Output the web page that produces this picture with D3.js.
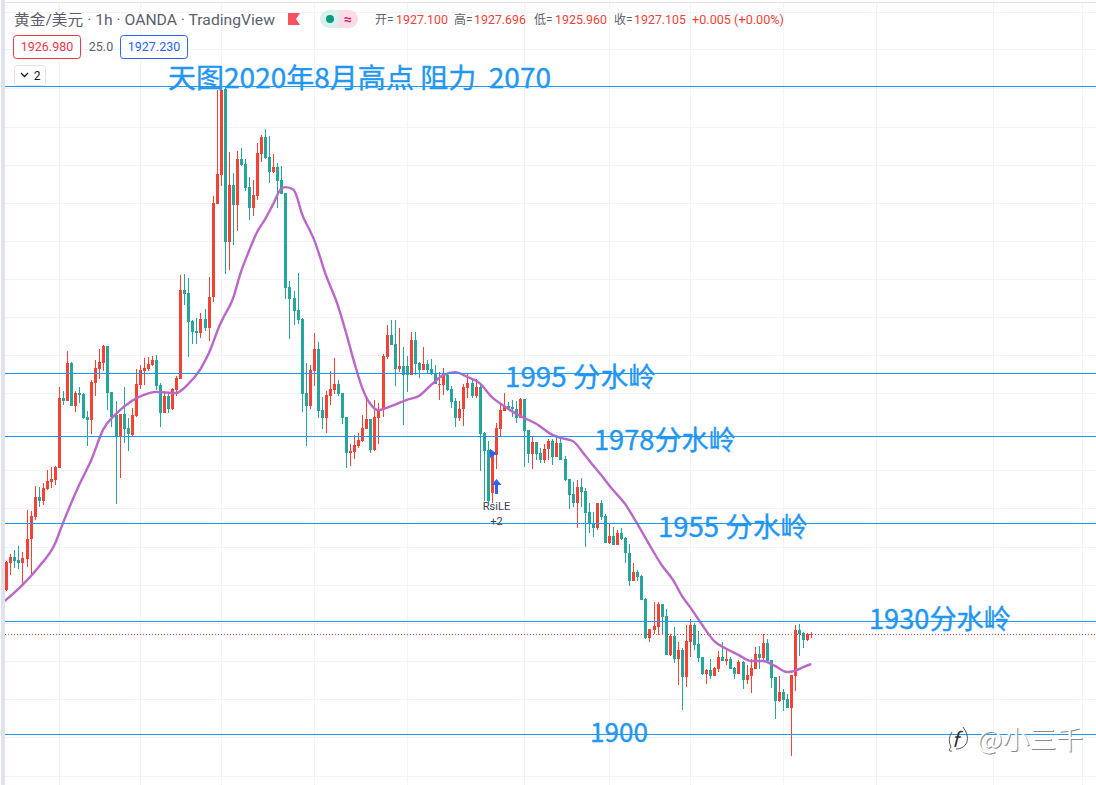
<!DOCTYPE html>
<html>
<head>
<meta charset="utf-8">
<title>黄金/美元 1h</title>
<script src="https://cdnjs.cloudflare.com/ajax/libs/d3/7.8.5/d3.min.js"></script>
<style>
html, body { margin: 0; padding: 0; background: #fff; overflow: hidden; }
svg { display: block; }
</style>
</head>
<body>
<svg id="chart"></svg>
<script>
var open = [
  1937.9,1945.0,1946.5,1945.7,1945.0,1946.0,1951.2,1957.0,1962.3,1961.2,
  1964.4,1966.2,1966.7,1969.9,1988.3,1987.5,1997.5,1986.2,1989.6,1989.3,
  1983.3,1982.5,1992.2,1995.9,1997.5,2002.0,1989.9,1983.8,1978.3,1984.1,
  1980.4,1978.6,1983.6,1991.7,1995.4,1995.9,1996.9,1998.3,1991.7,1984.3,
  1988.8,1985.4,1990.4,1993.3,2016.7,2015.9,2008.5,2005.9,2005.4,2009.0,
  2006.7,2014.8,2039.3,2046.9,2069.5,2029.3,2044.3,2039.0,2051.1,2049.8,
  2043.7,2038.2,2041.4,2052.4,2056.9,2051.6,2047.7,2049.0,2045.6,2042.2,
  2017.5,2014.6,2011.4,2009.0,1989.6,1986.2,1995.4,2001.2,1985.1,1983.0,
  1988.8,1990.4,1992.0,1989.6,1983.3,1973.9,1974.1,1975.7,1977.0,1980.1,
  1982.8,1974.6,1983.0,1985.1,1999.1,2004.8,2002.5,1995.9,1996.7,1996.7,
  1994.3,2003.5,1997.5,1995.6,1997.2,1995.9,1994.6,1991.7,1991.7,1994.3,
  1990.7,1987.5,1983.0,1985.4,1990.9,1992.2,1988.8,1991.2,1979.1,1974.6,
  1963.3,1973.3,1980.1,1984.9,1986.2,1985.9,1985.4,1983.0,1988.0,1979.9,
  1973.6,1976.7,1973.9,1972.0,1974.9,1977.0,1972.8,1976.5,1972.3,1967.0,
  1963.1,1960.7,1964.9,1963.9,1958.3,1955.4,1954.1,1960.7,1957.3,1950.2,
  1952.0,1949.7,1952.8,1951.5,1947.6,1940.2,1942.6,1941.5,1935.5,1925.2,
  1927.3,1928.1,1934.2,1931.0,1920.8,1925.8,1919.7,1922.1,1915.0,1924.2,
  1928.7,1923.7,1920.2,1915.8,1916.8,1915.3,1917.1,1920.2,1919.2,1919.7,
  1917.4,1915.8,1918.9,1914.2,1915.3,1917.1,1921.0,1920.0,1923.9,1919.5,
  1915.0,1908.7,1911.0,1909.2,1906.8,1915.3,1927.3,1926.6,1924.7,1926.2
];
var high = [
  1945.5,1947.3,1948.4,1949.4,1947.8,1958.9,1958.6,1965.2,1964.9,1966.0,
  1969.4,1970.2,1970.4,1991.2,1990.1,2000.6,1997.7,1990.1,1991.2,1989.6,
  1984.9,1993.0,1998.3,2001.2,2002.2,2002.0,1989.9,1987.5,1984.1,1991.2,
  1983.0,1985.7,1995.9,1996.9,1998.8,1999.1,1999.3,1999.6,1992.2,1989.6,
  1989.9,1990.9,1994.1,2020.6,2020.9,2019.8,2008.8,2009.3,2010.6,2011.7,
  2020.1,2041.4,2069.2,2069.2,2070.0,2052.9,2047.4,2053.2,2054.0,2051.1,
  2046.4,2045.6,2055.3,2057.4,2059.0,2057.1,2052.4,2050.0,2049.3,2042.2,
  2019.0,2016.4,2021.1,2009.3,1997.5,1996.9,2005.4,2003.0,1988.6,1990.1,
  1995.4,1998.8,1993.0,1989.6,1983.3,1976.2,1978.6,1979.1,1983.8,1988.6,
  1982.8,1987.8,1987.0,1999.9,2007.5,2008.8,2008.8,2006.7,2001.7,1999.3,
  2005.6,2005.6,1997.7,2001.7,1998.3,1998.5,1996.9,1995.1,1996.2,1994.9,
  1991.5,1988.3,1987.5,1992.0,1994.6,1993.5,1993.3,1991.7,1979.4,1977.0,
  1974.0,1981.7,1986.7,1989.6,1987.2,1987.8,1987.5,1988.3,1988.0,1979.9,
  1978.0,1976.7,1975.2,1976.2,1977.5,1977.5,1978.0,1977.5,1973.1,1967.0,
  1966.2,1966.7,1967.3,1964.6,1960.7,1958.3,1960.7,1961.5,1957.8,1955.2,
  1954.4,1953.6,1954.1,1951.8,1949.9,1945.0,1943.1,1941.8,1935.7,1927.6,
  1934.7,1934.7,1934.2,1932.9,1926.3,1928.1,1924.2,1922.6,1928.7,1930.2,
  1929.2,1927.1,1920.2,1917.1,1919.7,1917.6,1921.8,1924.2,1922.6,1920.2,
  1917.6,1919.5,1919.2,1918.1,1919.7,1922.9,1923.1,1926.3,1925.0,1919.5,
  1915.0,1915.3,1911.8,1910.5,1915.5,1928.7,1929.0,1926.8,1926.6,1926.8
];
var low = [
  1937.6,1941.8,1943.6,1943.4,1939.2,1943.9,1942.1,1956.2,1959.7,1960.2,
  1964.1,1964.6,1965.4,1969.9,1986.5,1987.5,1986.2,1984.6,1987.0,1982.8,
  1975.7,1978.8,1988.8,1993.3,1995.4,1985.1,1980.7,1960.4,1967.3,1976.5,
  1974.4,1978.3,1983.3,1990.7,1991.7,1995.4,1996.7,1990.4,1980.7,1984.3,
  1984.3,1985.1,1988.8,1993.3,2012.7,1999.1,2002.5,2002.5,2004.1,2005.9,
  2003.3,2013.5,2039.3,2044.0,2020.9,2021.9,2028.5,2032.2,2049.3,2042.7,
  2035.1,2036.1,2040.3,2050.3,2051.1,2044.8,2047.4,2038.2,2041.9,2014.3,
  2003.8,2007.5,2007.7,1984.6,1975.7,1985.4,1991.5,1983.0,1980.1,1979.1,
  1986.5,1989.3,1988.8,1981.5,1969.9,1970.4,1972.3,1975.2,1976.7,1980.1,
  1973.9,1974.4,1976.2,1983.3,1998.5,2002.2,1991.5,1995.1,1981.2,1989.9,
  1994.3,1994.3,1993.5,1995.6,1994.9,1994.3,1992.0,1987.8,1989.1,1990.1,
  1985.7,1980.7,1982.2,1980.9,1988.3,1988.3,1988.3,1969.1,1961.2,1960.7,
  1960.7,1969.6,1978.0,1984.9,1985.1,1983.3,1981.7,1983.0,1970.2,1971.2,
  1969.6,1972.0,1971.2,1971.2,1972.0,1970.7,1972.8,1972.0,1966.5,1959.1,
  1959.7,1954.1,1959.7,1949.1,1952.8,1951.8,1953.6,1956.2,1950.2,1949.9,
  1949.7,1949.7,1951.0,1945.0,1938.9,1940.2,1940.2,1935.2,1925.0,1924.2,
  1926.3,1926.0,1926.0,1920.8,1920.5,1918.7,1912.9,1906.3,1912.4,1920.2,
  1922.1,1918.9,1915.5,1913.2,1914.5,1915.3,1916.3,1919.2,1918.1,1917.1,
  1914.5,1915.8,1911.8,1913.2,1910.8,1917.1,1917.1,1918.9,1919.2,1912.1,
  1903.9,1908.4,1906.0,1906.8,1894.2,1911.3,1920.5,1922.6,1924.4,1925.3
];
var close = [
  1945.2,1946.5,1945.5,1945.0,1946.3,1951.2,1957.3,1962.3,1961.2,1964.6,
  1966.5,1967.0,1970.2,1988.3,1987.5,1997.5,1986.2,1989.6,1989.1,1983.0,
  1982.5,1992.5,1996.2,1997.7,2002.0,1989.6,1983.3,1978.3,1984.1,1980.1,
  1978.8,1983.8,1992.0,1995.6,1996.2,1997.2,1998.3,1991.5,1984.3,1988.8,
  1985.4,1990.7,1993.5,2016.7,2015.6,2008.2,2005.6,2005.4,2009.0,2006.7,
  2014.8,2039.5,2047.1,2069.2,2029.3,2044.3,2039.0,2051.1,2049.5,2043.5,
  2038.2,2041.6,2052.7,2056.9,2051.3,2047.7,2049.0,2045.3,2041.9,2017.2,
  2014.3,2011.1,2008.8,1989.3,1986.2,1995.6,2001.2,1984.9,1983.0,1989.1,
  1990.7,1992.0,1989.3,1983.0,1973.9,1974.4,1975.9,1977.2,1980.4,1982.8,
  1974.6,1983.3,1985.4,1999.3,2004.8,2002.2,1995.9,1996.7,1994.3,1994.3,
  2003.5,1997.2,1995.6,1997.2,1995.6,1994.6,1992.0,1992.0,1994.3,1990.4,
  1987.2,1983.0,1985.4,1991.2,1992.2,1988.8,1991.2,1978.8,1974.4,1961.2,
  1973.3,1980.4,1985.1,1986.2,1985.7,1985.4,1983.0,1988.0,1979.6,1973.6,
  1976.7,1973.6,1972.0,1974.9,1977.0,1972.8,1976.5,1972.0,1966.7,1962.8,
  1960.7,1964.9,1963.6,1958.1,1955.4,1954.1,1960.7,1957.0,1950.2,1952.0,
  1949.7,1952.8,1951.2,1947.6,1940.2,1942.6,1941.3,1935.2,1925.2,1927.6,
  1928.4,1934.2,1930.8,1920.8,1925.8,1919.7,1922.1,1915.0,1924.4,1928.7,
  1923.4,1920.0,1915.8,1916.8,1915.3,1917.4,1920.2,1919.2,1919.7,1917.1,
  1915.8,1918.9,1914.2,1915.5,1917.4,1921.0,1920.0,1923.9,1919.2,1914.7,
  1908.7,1911.0,1908.9,1906.8,1915.5,1927.3,1926.3,1924.7,1926.3,1926.3
];

// moving average at these candle numbers
var maIndex = [
  -1,4,8,12,14,18,21,24,27,31,
  34,37,42,45,48,50,53,54,56,58,
  60,62,64,66,68,69,71,72,73,75,
  76,79,82,84,86,88,90,92,94,96,
  99,102,105,108,111,114,117,120,123,127,
  131,135,137,140,143,145,147,150,153,156,
  159,162,165,167,169,172,175,178,181,184,
  187,190,193,195,197,199
];
var maValue = [
  1934.4,1939.2,1943.9,1949.9,1955.4,1965.4,1972.0,1980.1,1984.0,1987.5,
  1989.1,1989.9,1989.6,1992.0,1995.9,1999.9,2008.0,2010.1,2014.3,2021.4,
  2026.9,2031.9,2035.3,2039.3,2043.3,2043.7,2043.0,2040.6,2036.9,2032.4,
  2030.1,2020.6,2012.5,2005.4,1997.7,1990.9,1986.7,1985.1,1985.7,1986.5,
  1987.8,1988.8,1991.7,1994.3,1995.1,1993.8,1992.2,1988.6,1986.2,1983.6,
  1981.5,1978.6,1977.8,1977.0,1973.3,1970.7,1968.1,1964.1,1960.4,1955.2,
  1949.7,1944.4,1940.2,1936.3,1933.4,1928.7,1924.4,1922.4,1920.8,1919.2,
  1919.2,1917.9,1916.3,1916.6,1917.6,1918.4
];

// drawn levels and grid
var levelPrices = [2070.3, 1994.9, 1978.2, 1955.5, 1929.6, 1899.9];
var lastPrice = 1926.3;
var gridPrices = [2089.8,2079.9,2069.7,2059.6,2049.6,2039.6,2029.5,2019.5,2009.5,1999.6,1989.6,1979.4,1969.4,1959.4,1949.2,1939.2,1929.2,1919.2,1909.1,1899.1,1889.1];
var gridIndex = [13,33,53,76,99,128,149,169,192,215,244,266];

var levelLabels = ["天图2020年8月高点 阻力  2070", "1995 分水岭", "1978分水岭", "1955 分水岭", "1930分水岭", "1900"];
var ohlcNames = ["开=", "高=", "低=", "收="];
var ohlcValues = ["1927.100", "1927.696", "1925.960", "1927.105"];

var width = 1096, height = 785;
var UP = "#f44336", DOWN = "#26a69a", BLUE = "#2196f3", GRID = "#f0f3fa";
var CJK = "'Noto Sans CJK SC', 'Noto Sans', sans-serif";
var UI = "Roboto, 'Noto Sans CJK SC', sans-serif";

var x = d3.scaleLinear().domain([0, 199]).range([6.3, 811.3]);
var y = d3.scaleLinear().domain([2092.86, 1892.86]).range([0, 761.2]);

function px(v) {
   return Math.round(v);
}

var svg = d3.select("#chart").attr("width", width).attr("height", height)
   .style("font-family", UI);

svg.append("rect").attr("x", 1).attr("y", 2).attr("width", width).attr("height", 1).attr("fill", "#e0e3eb");
svg.append("rect").attr("x", 1).attr("y", 0).attr("width", 4).attr("height", height).attr("fill", "#e0e3eb");

var pane = svg.append("g");

//grid
pane.selectAll("line.gh").data(gridPrices).enter().append("line")
   .attr("class", "gh")
   .attr("x1", 5).attr("x2", width)
   .attr("y1", function (d) { return px(y(d)) + 0.5; })
   .attr("y2", function (d) { return px(y(d)) + 0.5; })
   .attr("stroke", GRID);
pane.selectAll("line.gv").data(gridIndex).enter().append("line")
   .attr("class", "gv")
   .attr("y1", 3).attr("y2", height)
   .attr("x1", function (d) { return px(x(d)) + 0.5; })
   .attr("x2", function (d) { return px(x(d)) + 0.5; })
   .attr("stroke", GRID);

//candles
var candles = pane.selectAll("g.candle").data(d3.range(open.length)).enter().append("g")
   .attr("class", "candle")
   .attr("fill", function (i) { return close[i] >= open[i] ? UP : DOWN; });
candles.append("rect")
   .attr("x", function (i) { return px(x(i)); })
   .attr("width", 1)
   .attr("y", function (i) { return px(y(high[i])); })
   .attr("height", function (i) { return Math.max(1, px(y(low[i])) - px(y(high[i]))); });
candles.append("rect")
   .attr("x", function (i) { return px(x(i)) - 1; })
   .attr("width", 3)
   .attr("y", function (i) { return px(y(Math.max(open[i], close[i]))); })
   .attr("height", function (i) {
      return Math.max(1, px(y(Math.min(open[i], close[i]))) - px(y(Math.max(open[i], close[i]))));
   });

//moving average
var maLine = d3.line()
   .x(function (d, i) { return x(maIndex[i]); })
   .y(function (d) { return y(d); })
   .curve(d3.curveMonotoneX);
svg.append("clipPath").attr("id", "paneClip").append("rect")
   .attr("x", 5).attr("y", 3).attr("width", width).attr("height", height);
pane.append("path").datum(maValue)
   .attr("clip-path", "url(#paneClip)")
   .attr("d", maLine)
   .attr("fill", "none")
   .attr("stroke", "#ba68c8")
   .attr("stroke-width", 2.4);

//levels
pane.selectAll("line.level").data(levelPrices).enter().append("line")
   .attr("class", "level")
   .attr("x1", 5).attr("x2", width)
   .attr("y1", function (d) { return px(y(d)) + 0.5; })
   .attr("y2", function (d) { return px(y(d)) + 0.5; })
   .attr("stroke", BLUE);
pane.append("line")
   .attr("x1", 5).attr("x2", width)
   .attr("y1", px(y(lastPrice)) + 0.5).attr("y2", px(y(lastPrice)) + 0.5)
   .attr("stroke", UP).attr("stroke-dasharray", "1 2");

//strategy marks
var markX = px(x(121));
pane.append("path")
   .attr("d", "M" + (markX - 6) + " " + y(1974.9) + "l7 4.5l-7 4.5z")
   .attr("fill", "#2962ff");
pane.append("path")
   .attr("d", "M" + (markX + 0.5) + " " + y(1967.0) + "l5 6h-3.5v9h-3v-9h-3.5z")
   .attr("fill", "#2962ff");
pane.append("text").attr("x", markX + 0.5).attr("y", 510).attr("text-anchor", "middle")
   .attr("font-size", 11).attr("fill", "#3a3f4b").text("RsiLE");
pane.append("text").attr("x", markX + 0.5).attr("y", 525).attr("text-anchor", "middle")
   .attr("font-size", 11).attr("fill", "#3a3f4b").text("+2");

//big labels
var labelX = [168, 505, 594, 658, 869, 590];
var labelY = [88, 387, 450, 537, 629, 742];
var labelW = [383, 151, 142, 150, 142, 58];
svg.selectAll("text.level-label").data(levelLabels).enter().append("text")
   .attr("class", "level-label")
   .attr("x", function (d, i) { return labelX[i]; })
   .attr("y", function (d, i) { return labelY[i]; })
   .attr("textLength", function (d, i) { return labelW[i]; })
   .attr("lengthAdjust", "spacingAndGlyphs")
   .attr("xml:space", "preserve")
   .style("white-space", "pre")
   .attr("font-family", CJK)
   .attr("font-size", 27)
   .attr("fill", BLUE)
   .attr("stroke", BLUE)
   .attr("stroke-width", 0.35)
   .text(function (d) { return d; });

//header
svg.append("text").attr("x", 14).attr("y", 25).attr("font-size", 14.5).attr("fill", "#5d606b")
   .attr("textLength", 261).attr("lengthAdjust", "spacingAndGlyphs")
   .text("黄金/美元 · 1h · OANDA · TradingView");
svg.append("path").attr("d", "M288 13h12l-4 6l4 6h-12z").attr("fill", "#f7525f");
svg.append("path").attr("d", "M329 10h10v18h-10a9 9 0 0 1 0-18z").attr("fill", "#d9f0ed");
svg.append("path").attr("d", "M339 10h10a9 9 0 0 1 0 18h-10z").attr("fill", "#fbdce6");
svg.append("circle").attr("cx", 330).attr("cy", 19).attr("r", 4).attr("fill", "#089981");
svg.append("text").attr("x", 348).attr("y", 23.5).attr("text-anchor", "middle")
   .attr("font-size", 14).attr("font-weight", 700).attr("fill", "#d81b60").text("≈");

var nameX = [375, 454, 534, 614];
var valueX = [396, 474, 555, 634];
svg.selectAll("text.oname").data(ohlcNames).enter().append("text")
   .attr("class", "oname")
   .attr("x", function (d, i) { return nameX[i]; }).attr("y", 24)
   .attr("font-size", 12).attr("fill", "#5d606b")
   .text(function (d) { return d; });
svg.selectAll("text.ovalue").data(ohlcValues).enter().append("text")
   .attr("class", "ovalue")
   .attr("x", function (d, i) { return valueX[i]; }).attr("y", 24)
   .attr("font-size", 12).attr("fill", UP)
   .attr("textLength", 52).attr("lengthAdjust", "spacingAndGlyphs")
   .text(function (d) { return d; });
svg.append("text").attr("x", 692).attr("y", 24).attr("font-size", 12).attr("fill", UP)
   .attr("textLength", 92).attr("lengthAdjust", "spacingAndGlyphs")
   .text("+0.005 (+0.00%)");

//order boxes
svg.append("rect").attr("x", 13.5).attr("y", 35.5).attr("width", 67).attr("height", 23).attr("rx", 3)
   .attr("fill", "#fff").attr("stroke", "#f23645");
svg.append("text").attr("x", 47).attr("y", 51).attr("text-anchor", "middle").attr("font-size", 12.5)
   .attr("fill", "#f23645").text("1926.980");
svg.append("text").attr("x", 101).attr("y", 51).attr("text-anchor", "middle").attr("font-size", 12.5)
   .attr("fill", "#5d606b").text("25.0");
svg.append("rect").attr("x", 120.5).attr("y", 35.5).attr("width", 67).attr("height", 23).attr("rx", 3)
   .attr("fill", "#fff").attr("stroke", "#2962ff");
svg.append("text").attr("x", 154).attr("y", 51).attr("text-anchor", "middle").attr("font-size", 12.5)
   .attr("fill", "#2962ff").text("1927.230");
svg.append("rect").attr("x", 14.5).attr("y", 65.5).attr("width", 31).attr("height", 20).attr("rx", 3)
   .attr("fill", "#fff").attr("stroke", "#e0e3eb");
svg.append("path").attr("d", "M21 73l3.5 3.5l3.5-3.5").attr("fill", "none").attr("stroke", "#131722").attr("stroke-width", 1.3);
svg.append("text").attr("x", 37).attr("y", 80).attr("text-anchor", "middle").attr("font-size", 12)
   .attr("fill", "#131722").text("2");

//watermark
var mark = svg.append("g").attr("font-family", CJK);
mark.append("path").attr("d", "M952 751q-5 1 -1 -4q-4 -8 1 -15M963 727q6 8 4 15q-3 7 -11 7")
   .attr("fill", "none").attr("stroke", "#333").attr("stroke-width", 0.8);
mark.append("text").attr("x", 952).attr("y", 747).attr("font-size", 20).attr("font-style", "italic")
   .attr("fill", "#333").text("f");
[["#8a8a8a", 1, 1], ["#ffffff", 0, 0]].forEach(function (layer) {
   mark.append("text").attr("x", 977 + layer[1]).attr("y", 749 + layer[2])
      .attr("font-size", 26).attr("fill", layer[0])
      .attr("textLength", 106).attr("lengthAdjust", "spacingAndGlyphs")
      .text("@小三千");
});
</script>
</body>
</html>
